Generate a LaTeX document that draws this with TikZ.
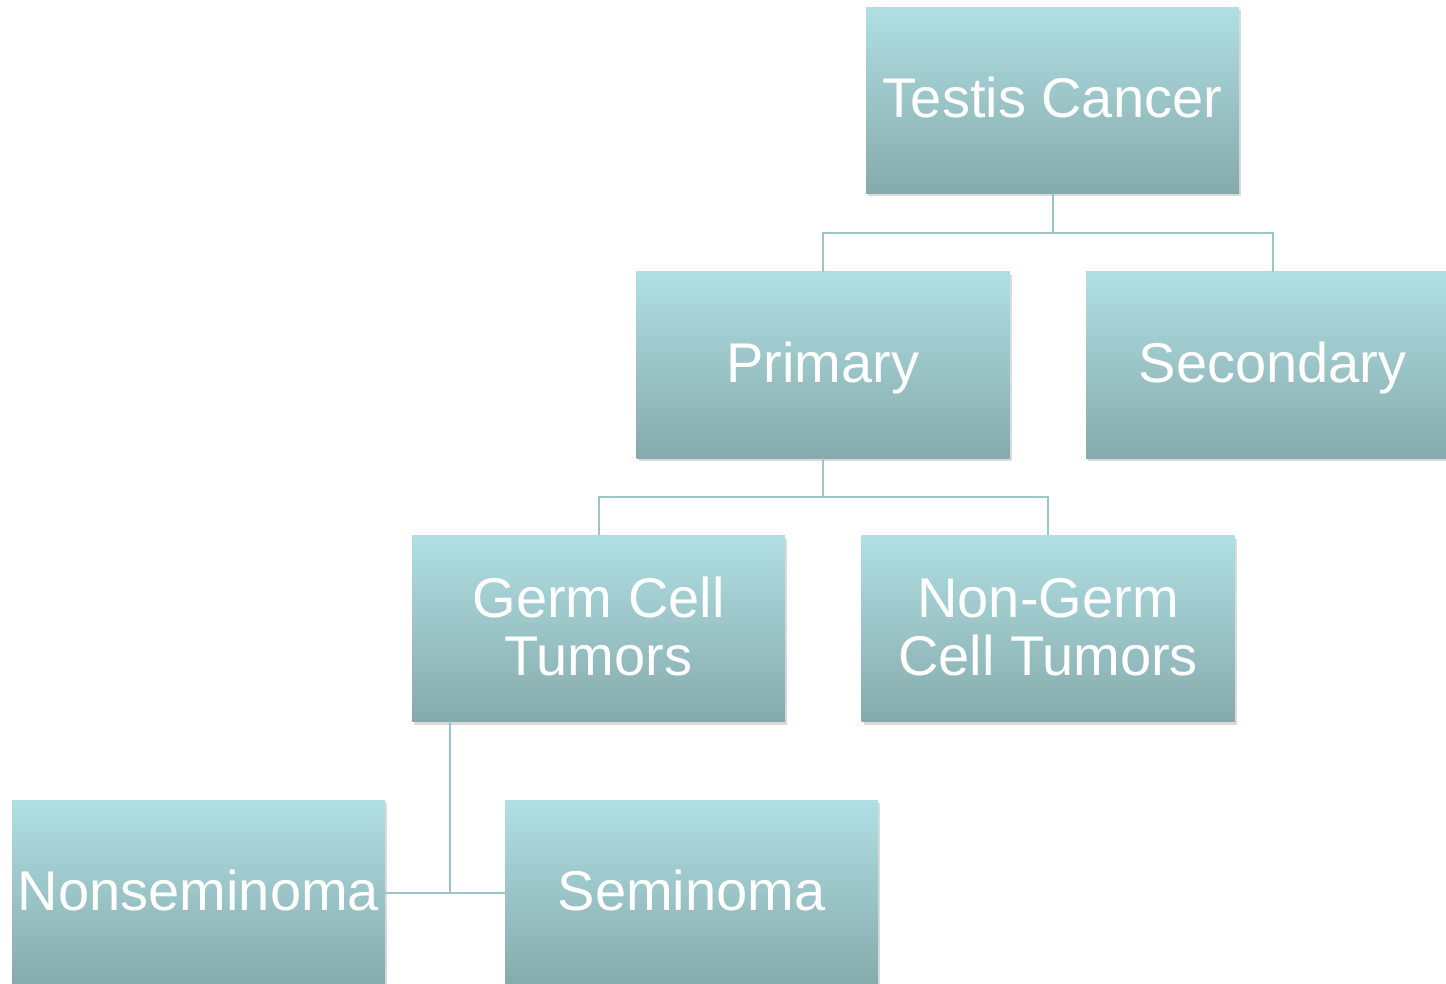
\documentclass[tikz,border=0pt]{standalone}
\usepackage{fontspec}
\setmainfont{Liberation Sans}
\usetikzlibrary{shadows}
\definecolor{boxtop}{HTML}{B0DFE3}
\definecolor{boxmid}{HTML}{A2CACD}
\definecolor{boxbot}{HTML}{86AAAB}
\definecolor{linkcol}{HTML}{9CC5C8}
% text with its first baseline #1 above the box centre
\newcommand{\boxtext}[2]{\raisebox{#1}[0pt][0pt]{\begin{tabular}[t]{@{}c@{}}#2\end{tabular}}}
\begin{document}
\begin{tikzpicture}[x=1pt,y=-1pt,
    box/.style={rectangle, minimum width=373pt, minimum height=186pt, inner sep=0pt,
      top color=boxtop, middle color=boxmid, bottom color=boxbot,
      drop shadow={shadow xshift=2pt, shadow yshift=-3pt, opacity=.2, fill=black!70},
      text=white, align=center, font=\fontsize{56}{58}\selectfont},
    link/.style={draw=linkcol, line width=2pt}]
    \useasboundingbox (0,0) rectangle (1446,984);
    \clip (0,0) rectangle (1446,984);

    \node[box] (testis) at (1052.5,100.5) {\boxtext{-17.5pt}{Testis Cancer}};
    \node[box] (primary) at (823,365) {\boxtext{-17.5pt}{Primary}};
    \node[box] (secondary) at (1272.5,365) {\boxtext{-17.5pt}{Secondary}};
    \node[box] (germ) at (598.5,628.5) {\boxtext{11.5pt}{Germ Cell\\Tumors}};
    \node[box] (nongerm) at (1048,628.5) {\boxtext{11.5pt}{Non-Germ\\Cell Tumors}};
    \node[box] (nonsem) at (198.5,893) {\boxtext{-17.5pt}{Nonseminoma}};
    \node[box] (sem) at (691.5,893) {\boxtext{-17.5pt}{Seminoma}};

    \coordinate (germtop) at (450,721);
    \coordinate (germbot) at (450,892);

    \begin{scope}[on background layer/.try]
    \foreach \a/\b in {testis/primary,testis/secondary,primary/germ,primary/nongerm}
      \draw[link] (\a.south) -- ++(0,39) -| (\b.north);
    \draw[link] (germtop) -- (germbot);
    \draw[link] (nonsem.east) -- (sem.west);
    \end{scope}
\end{tikzpicture}
\end{document}
